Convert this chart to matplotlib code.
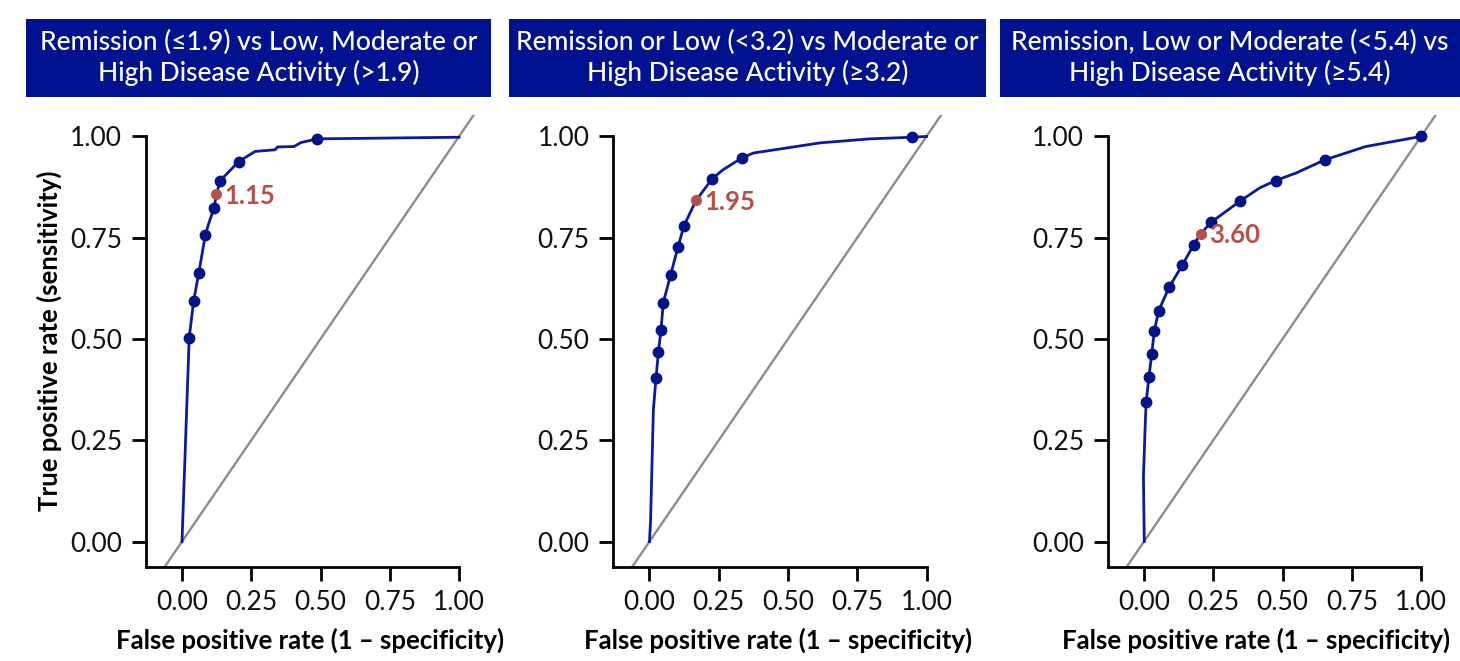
import matplotlib
matplotlib.use("Agg")
import matplotlib.pyplot as plt
from matplotlib.patches import Rectangle

plt.rcParams['font.family'] = ['Lato', 'DejaVu Sans']

# panel titles
titles = ['Remission (\u22641.9) vs Low, Moderate or\nHigh Disease Activity (>1.9)',
          'Remission or Low (<3.2) vs Moderate or\nHigh Disease Activity (\u22653.2)',
          'Remission, Low or Moderate (<5.4) vs\nHigh Disease Activity (\u22655.4)']

# ROC curves
fpr1 = [0.0, 0.026, 0.042, 0.061, 0.084, 0.095, 0.116, 0.124, 0.138, 0.205, 0.264, 0.336, 0.345, 0.404, 0.43, 0.489, 1.0]
tpr1 = [0.0, 0.503, 0.594, 0.664, 0.756, 0.782, 0.824, 0.857, 0.891, 0.938, 0.963, 0.967, 0.974, 0.975, 0.985, 0.994, 0.998]
fpr2 = [0.0, 0.004, 0.014, 0.0235, 0.032, 0.0415, 0.050, 0.0765, 0.103, 0.1245, 0.168, 0.227, 0.266, 0.334, 0.375, 0.615, 0.796, 0.949, 1.0]
tpr2 = [0.0, 0.054, 0.325, 0.403, 0.467, 0.523, 0.590, 0.659, 0.727, 0.780, 0.842, 0.896, 0.918, 0.947, 0.959, 0.984, 0.994, 0.998, 1.0]
fpr3 = [0.001, -0.002, 0.005, 0.008, 0.018, 0.0277, 0.037, 0.053, 0.091, 0.138, 0.179, 0.204, 0.242, 0.346, 0.418, 0.475, 0.55, 0.652, 0.80, 1.0]
tpr3 = [0.0, 0.16, 0.30, 0.345, 0.407, 0.462, 0.519, 0.570, 0.628, 0.682, 0.732, 0.759, 0.788, 0.840, 0.873, 0.891, 0.910, 0.942, 0.975, 1.0]

# threshold points (dots)
dotx1 = [0.026, 0.042, 0.061, 0.084, 0.116, 0.138, 0.205, 0.489]
doty1 = [0.503, 0.594, 0.664, 0.756, 0.824, 0.891, 0.938, 0.994]
dotx2 = [0.0235, 0.032, 0.0415, 0.050, 0.0765, 0.103, 0.1245, 0.227, 0.334, 0.949]
doty2 = [0.403, 0.467, 0.523, 0.590, 0.659, 0.727, 0.780, 0.896, 0.947, 0.998]
dotx3 = [0.008, 0.018, 0.0277, 0.037, 0.053, 0.091, 0.138, 0.179, 0.242, 0.346, 0.475, 0.652, 1.0]
doty3 = [0.345, 0.407, 0.462, 0.519, 0.570, 0.628, 0.682, 0.732, 0.788, 0.840, 0.891, 0.942, 1.0]

# optimal cut-off
cut_x = [0.124, 0.168, 0.204]
cut_y = [0.857, 0.842, 0.759]
cut_lab = ['1.15', '1.95', '3.60']

ticks = [0, 0.25, 0.5, 0.75, 1.0]
tick_labels = ['0.00', '0.25', '0.50', '0.75', '1.00']

NAVY = '#00128F'
LINE = '#0A1A9E'
RED = '#B5504B'

fig = plt.figure(figsize=(14.6, 6.61), dpi=100)

lefts = [0.0998, 0.4200, 0.7587]
boxes = [(0.0178, 0.3185), (0.3486, 0.3267), (0.6849, 0.3151)]
curves = [(fpr1, tpr1, dotx1, doty1), (fpr2, tpr2, dotx2, doty2), (fpr3, tpr3, dotx3, doty3)]

for i in range(3):
    ax = fig.add_axes([lefts[i], 0.1427, 0.2256, 0.6834])
    fx, ty, dx, dy = curves[i]
    ax.axline((0, 0), (1, 1), color='#8C8C8C', lw=1.7, zorder=1)
    ax.plot(fx, ty, color=LINE, lw=2.0, zorder=2)
    ax.plot(dx, dy, 'o', color='#001489', ms=7.5, zorder=3)
    ax.plot(cut_x[i], cut_y[i], 'o', color=RED, ms=7, zorder=4)
    ax.annotate(cut_lab[i], (cut_x[i], cut_y[i]), xytext=(6, -1), textcoords='offset points',
                va='center', ha='left', color=RED, fontsize=18.5, fontweight='bold')
    ax.set_xlim(-0.131, 1.058)
    ax.set_ylim(-0.062, 1.053)
    for s in ['top', 'right']:
        ax.spines[s].set_visible(False)
    ax.spines['bottom'].set_bounds(-0.131, 1.0)
    ax.spines['left'].set_bounds(-0.062, 1.0)
    ax.spines['bottom'].set_linewidth(2)
    ax.spines['left'].set_linewidth(2)
    ax.set_xticks(ticks)
    ax.set_xticklabels(tick_labels)
    ax.set_yticks(ticks)
    ax.set_yticklabels(tick_labels)
    ax.tick_params(length=10, width=2, labelsize=19, pad=7, labelcolor='#111111')
    ax.set_xlabel('False positive rate (1 \u2013 specificity)', fontsize=18.5, fontweight='bold', labelpad=9)
    if i == 0:
        ax.set_ylabel('True positive rate (sensitivity)', fontsize=18.5, fontweight='bold', labelpad=6)
    if i == 2:
        # keep the last label inside the figure
        ax.xaxis.set_label_coords(0.45, -0.135)

    bx, bw = boxes[i]
    fig.patches.append(Rectangle((bx, 0.8533), bw, 0.118, transform=fig.transFigure,
                                 facecolor=NAVY, edgecolor='none'))
    fig.text(bx + bw / 2, 0.8533 + 0.059, titles[i], ha='center', va='center', color='white',
             fontsize=19, fontweight='medium', linespacing=1.2)

fig.savefig('out.png', dpi=100)
